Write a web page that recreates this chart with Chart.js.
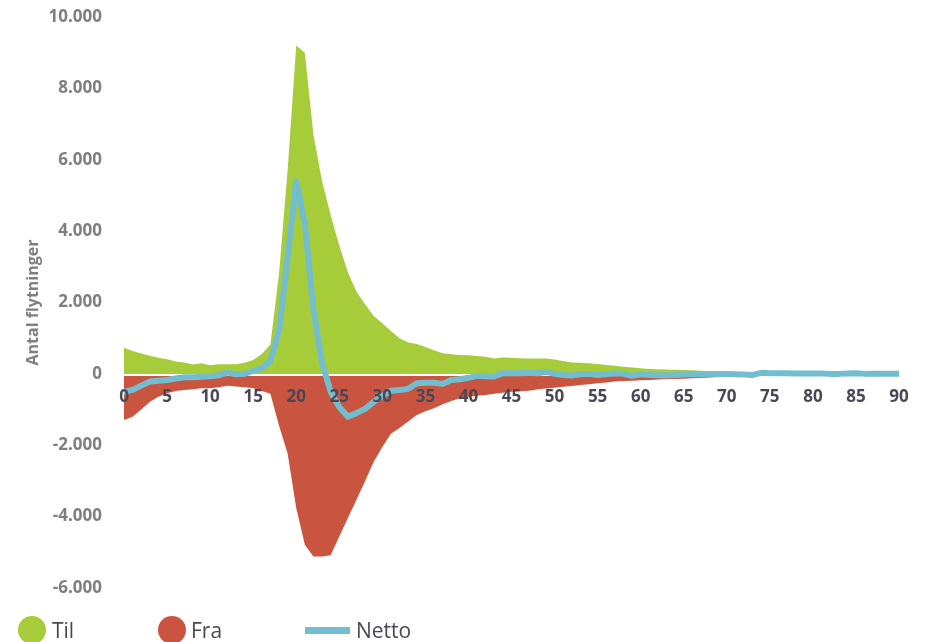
<!DOCTYPE html>
<html>
<head>
<meta charset="utf-8">
<script src="https://cdn.jsdelivr.net/npm/chart.js@4.4.1/dist/chart.umd.min.js"></script>
<style>
  html, body { margin: 0; padding: 0; background: #ffffff; }
  #wrap { position: relative; width: 928px; height: 642px; overflow: hidden; }
  #chart { position: absolute; left: 0; top: 0; }
  .legend { position: absolute; top: 614px; left: 0; height: 32px; font-family: "Open Sans", "Noto Sans", sans-serif; font-size: 21px; font-weight: 500; color: #4a4857; }
  .item { position: absolute; top: 0; height: 32px; line-height: 32px; white-space: nowrap; }
  .dot { position: absolute; width: 28px; height: 28px; border-radius: 50%; top: 2px; }
  .bar { position: absolute; width: 45px; height: 7px; top: 12.5px; }
  .txt { position: absolute; top: 0; }
</style>
</head>
<body>
<div id="wrap">
  <canvas id="chart" width="928" height="642"></canvas>
  <div class="legend">
    <div class="item" style="left:18px;"><span class="dot" style="left:0;background:#a6cc3a;"></span><span class="txt" style="left:34px;">Til</span></div>
    <div class="item" style="left:158px;"><span class="dot" style="left:0;background:#c95540;"></span><span class="txt" style="left:33px;">Fra</span></div>
    <div class="item" style="left:305px;"><span class="bar" style="left:0;background:#72bece;"></span><span class="txt" style="left:51px;">Netto</span></div>
  </div>
</div>
<script>
const ages = [0,1,2,3,4,5,6,7,8,9,10,11,12,13,14,15,16,17,18,19,20,21,22,23,24,25,26,27,28,29,30,
  31,32,33,34,35,36,37,38,39,40,41,42,43,44,45,46,47,48,49,50,51,52,53,54,55,56,57,58,59,60,
  61,62,63,64,65,66,67,68,69,70,71,72,73,74,75,76,77,78,79,80,81,82,83,84,85,86,87,88,89,90];

const til = [730,640,570,510,450,410,350,320,260,300,240,270,270,270,310,390,560,820,2800,5700,
  9200,9000,6700,5400,4450,3600,2850,2300,1950,1620,1420,1200,1000,880,840,750,660,580,550,530,
  520,500,480,430,460,450,440,430,430,430,400,360,320,310,300,280,250,230,200,180,
  160,140,130,120,115,110,100,90,75,60,40,20,15,10,8,6,6,5,5,4,
  4,3,3,3,2,2,2,1,1,1,1];

const fra = [-1290,-1200,-1000,-780,-640,-540,-480,-450,-430,-400,-400,-375,-335,-355,-375,-400,-480,-560,-1450,-2230,
  -3760,-4790,-5120,-5120,-5080,-4560,-4040,-3530,-3000,-2460,-2050,-1680,-1520,-1335,-1150,-1050,-960,-850,-760,-680,
  -650,-610,-590,-555,-530,-500,-490,-470,-440,-410,-390,-360,-340,-310,-290,-260,-240,-215,-200,-190,
  -180,-170,-160,-150,-145,-140,-125,-115,-100,-85,-60,-40,-25,-15,-10,-8,-7,-6,-5,-5,
  -4,-4,-3,-3,-3,-2,-2,-2,-1,-1,-1];

const netto = [-500,-450,-330,-215,-190,-170,-130,-95,-95,-80,-70,-40,35,-10,0,80,170,360,1200,3270,
  5400,4200,1800,300,-500,-930,-1200,-1100,-980,-780,-620,-470,-450,-420,-260,-250,-250,-280,-170,-150,
  -110,-55,-65,-75,20,20,20,30,20,55,0,-30,-45,-10,0,-30,-10,20,0,-55,
  -10,-30,-40,-45,-30,-20,-10,-10,-10,-5,-5,-10,-20,-30,30,20,20,15,10,10,
  10,10,0,0,10,15,0,5,5,5,5];

const yTicks = [-6000,-4000,-2000,0,2000,4000,6000,8000,10000];
const xTicks = [0,5,10,15,20,25,30,35,40,45,50,55,60,65,70,75,80,85,90];
const yTitle = "Antal flytninger";

const toPts = arr => ages.map((a, i) => ({ x: a, y: arr[i] }));

function fmt(v) {
  const s = Math.abs(v).toString().replace(/\B(?=(\d{3})+(?!\d))/g, ".");
  return (v < 0 ? "-" : "") + s;
}

const zeroLine = {
  id: 'zeroLine',
  beforeDatasetDraw(chart, args) {
    if (args.index !== 2) return;
    const ctx = chart.ctx, y = chart.scales.y.getPixelForValue(0), a = chart.chartArea;
    ctx.save();
    ctx.strokeStyle = '#ffffff';
    ctx.lineWidth = 2;
    ctx.beginPath();
    ctx.moveTo(a.left, y + 1);
    ctx.lineTo(a.right, y + 1);
    ctx.stroke();
    ctx.restore();
  }
};

new Chart(document.getElementById('chart'), {
  type: 'line',
  data: {
    datasets: [
      { label: 'Til', data: toPts(til), fill: 'origin', backgroundColor: '#a6cc3a', borderWidth: 0, pointRadius: 0, tension: 0, order: 1 },
      { label: 'Fra', data: toPts(fra), fill: 'origin', backgroundColor: '#c95540', borderWidth: 0, pointRadius: 0, tension: 0, order: 2 },
      { label: 'Netto', data: toPts(netto), fill: false, borderColor: '#72bece', borderWidth: 6, pointRadius: 0, tension: 0,
        borderJoinStyle: 'round', borderCapStyle: 'round', order: 0 }
    ]
  },
  options: {
    responsive: false,
    animation: false,
    layout: { padding: { left: 0, right: 29, top: 17, bottom: 54 } },
    plugins: { legend: { display: false }, tooltip: { enabled: false } },
    scales: {
      x: {
        type: 'linear', min: 0, max: 90,
        position: { y: 0 },
        grid: { display: false, drawTicks: false },
        border: { display: false },
        afterBuildTicks: s => { s.ticks = xTicks.map(v => ({ value: v })); },
        ticks: { z: 1, padding: 13, maxRotation: 0, autoSkip: false, color: '#4a4857',
          font: { family: "'Open Sans', 'Noto Sans', sans-serif", size: 17, weight: 'bold' } }
      },
      y: {
        min: -6000, max: 10000,
        grid: { display: false, drawTicks: false },
        border: { display: false },
        afterBuildTicks: s => { s.ticks = yTicks.map(v => ({ value: v })); },
        afterFit: s => { s.width = 124; s.paddingTop = 0; s.paddingBottom = 0; },
        title: { display: true, text: yTitle, color: '#7f7f7f', padding: { top: 24, bottom: 0 },
          font: { family: "'Open Sans', 'Noto Sans', sans-serif", size: 16, weight: 'bold' } },
        ticks: { padding: 22, color: '#7f7f7f', callback: v => fmt(v),
          font: { family: "'Open Sans', 'Noto Sans', sans-serif", size: 17, weight: 'bold' } }
      }
    }
  },
  plugins: [zeroLine]
});
</script>
</body>
</html>
